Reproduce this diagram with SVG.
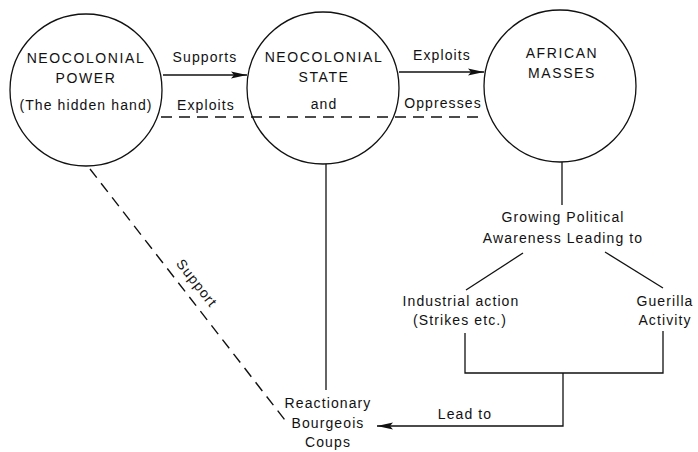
<svg xmlns="http://www.w3.org/2000/svg" width="698" height="452" viewBox="0 0 698 452">
<style>
text{font-family:"Liberation Sans",Arial,sans-serif;font-size:14px;letter-spacing:1.1px;fill:#111;text-anchor:middle}
.n{fill:none;stroke:#111;stroke-width:1.3}
.l{fill:none;stroke:#111;stroke-width:1.3}
.d{fill:none;stroke:#111;stroke-width:1.4;stroke-dasharray:11 7}
</style>
<defs>
<marker id="ah" viewBox="0 0 16 8" refX="16" refY="4" markerWidth="16" markerHeight="8" markerUnits="userSpaceOnUse" orient="auto">
<path d="M0,0.5 L16,4 L0,7.5 L3,4 Z" fill="#111"/>
</marker>
</defs>
<g id="connectors">
<line class="l" x1="163" y1="75" x2="247" y2="75" marker-end="url(#ah)"/>
<line class="l" x1="399" y1="72" x2="484" y2="72" marker-end="url(#ah)"/>
<line class="d" x1="161" y1="117" x2="484" y2="117"/>
<line class="l" x1="326" y1="164" x2="326" y2="390"/>
<line class="l" x1="562" y1="162" x2="562" y2="205"/>
<line class="l" x1="523" y1="253" x2="466" y2="290"/>
<line class="l" x1="605" y1="252" x2="663" y2="288"/>
<polyline class="l" points="465,333 465,373 663,373 663,331"/>
<polyline class="l" points="563,373 563,426 377,426" marker-end="url(#ah)"/>
<line class="d" x1="90" y1="169" x2="288" y2="424"/>
<text x="465" y="419">Lead to</text>
<text x="205" y="62">Supports</text>
<text x="206" y="110">Exploits</text>
<text x="442" y="60">Exploits</text>
<text x="443" y="108">Oppresses</text>
<text transform="translate(193,286) rotate(52)" x="0" y="0">Support</text>
</g>
<g id="neocolonial-power">
<circle class="n" cx="86" cy="90" r="76"/>
<text x="86" y="63" style="letter-spacing:1.6px">NEOCOLONIAL</text>
<text x="86" y="83" style="letter-spacing:1.6px">POWER</text>
<text x="86" y="110">(The hidden hand)</text>
</g>
<g id="neocolonial-state">
<circle class="n" cx="323" cy="88" r="76"/>
<text x="324" y="62" style="letter-spacing:1.6px">NEOCOLONIAL</text>
<text x="324" y="82" style="letter-spacing:1.6px">STATE</text>
<text x="324" y="109">and</text>
</g>
<g id="african-masses">
<circle class="n" cx="560" cy="86" r="76"/>
<text x="562" y="58" style="letter-spacing:1.6px">AFRICAN</text>
<text x="562" y="78" style="letter-spacing:1.6px">MASSES</text>
</g>
<g id="awareness">
<text x="563" y="222">Growing Political</text>
<text x="563" y="243">Awareness Leading to</text>
</g>
<g id="industrial">
<text x="461" y="306">Industrial action</text>
<text x="460" y="325">(Strikes etc.)</text>
</g>
<g id="guerilla">
<text x="665" y="306">Guerilla</text>
<text x="665" y="325">Activity</text>
</g>
<g id="coups">
<text x="328" y="408">Reactionary</text>
<text x="328" y="428">Bourgeois</text>
<text x="328" y="447">Coups</text>
</g>
</svg>
